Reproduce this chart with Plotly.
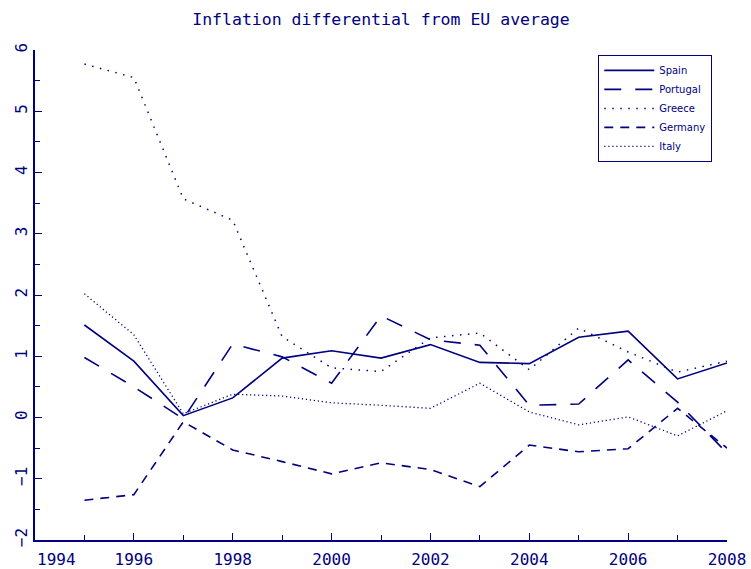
import plotly.graph_objects as go

NAVY = "#000080"

years = list(range(1995, 2009))

spain = [1.51, 0.92, 0.03, 0.32, 0.97, 1.09, 0.97, 1.19, 0.90, 0.88, 1.31, 1.41, 0.63, 0.89]
portugal = [0.98, 0.50, -0.02, 1.20, 0.99, 0.56, 1.66, 1.27, 1.18, 0.20, 0.22, 0.94, 0.25, -0.58]
greece = [5.77, 5.55, 3.57, 3.22, 1.32, 0.81, 0.75, 1.30, 1.38, 0.78, 1.46, 1.07, 0.74, 0.92]
germany = [-1.35, -1.26, -0.07, -0.53, -0.72, -0.92, -0.74, -0.85, -1.13, -0.45, -0.56, -0.51, 0.15, -0.50]
italy = [2.02, 1.35, 0.06, 0.38, 0.35, 0.24, 0.20, 0.15, 0.56, 0.09, -0.12, 0.01, -0.30, 0.11]

series = [
    ("Spain", spain, "solid", 1.6),
    ("Portugal", portugal, "17px,14px", 1.6),
    ("Greece", greece, "1.5px,6.5px", 1.5),
    ("Germany", germany, "9px,7px", 1.6),
    ("Italy", italy, "1.2px,2.8px", 1.3),
]

fig = go.Figure()
for name, vals, dash, width in series:
    fig.add_trace(
        go.Scatter(
            x=years,
            y=vals,
            name=name,
            mode="lines",
            line={"color": NAVY, "width": width, "dash": dash},
        )
    )

tick_font = {"family": "DejaVu Sans Mono", "size": 16, "color": NAVY}

fig.update_xaxes(
    range=[1994, 2008],
    tickvals=list(range(1996, 2009, 2)),
    ticks="inside",
    ticklen=7,
    tickwidth=1,
    tickcolor=NAVY,
    minor={"tickvals": list(range(1995, 2009, 2)), "ticks": "inside", "ticklen": 5, "tickcolor": NAVY},
    showline=True,
    linecolor=NAVY,
    linewidth=2,
    showgrid=False,
    zeroline=False,
    tickfont=tick_font,
    ticklabelstandoff=4,
    automargin=False,
)
fig.update_yaxes(
    range=[-2, 6],
    tickvals=list(range(-2, 7)),
    ticktext=["\u22122", "\u22121", "0", "1", "2", "3", "4", "5", "6"],
    tickangle=-90,
    ticks="inside",
    ticklen=7,
    tickwidth=1,
    tickcolor=NAVY,
    minor={"tickvals": [v + 0.5 for v in range(-2, 6)], "ticks": "inside", "ticklen": 5, "tickcolor": NAVY},
    showline=True,
    linecolor=NAVY,
    linewidth=2,
    showgrid=False,
    zeroline=False,
    tickfont=tick_font,
    automargin=False,
)

# first year label sits to the right of the axis corner
fig.add_annotation(
    x=1994,
    y=0,
    xref="x",
    yref="paper",
    text="1994",
    showarrow=False,
    xanchor="left",
    yanchor="top",
    yshift=-8,
    font=tick_font,
)

fig.update_layout(
    width=751,
    height=569,
    margin={"l": 35, "r": 24, "t": 50, "b": 29, "autoexpand": False},
    plot_bgcolor="white",
    paper_bgcolor="white",
    title={
        "text": "Inflation differential from EU average",
        "x": 0.5,
        "xanchor": "center",
        "xref": "paper",
        "y": 0.966,
        "yref": "container",
        "yanchor": "middle",
        "font": {"family": "DejaVu Sans Mono", "size": 16.5, "color": NAVY},
    },
    legend={
        "x": 0.814,
        "y": 0.99,
        "xanchor": "left",
        "yanchor": "top",
        "bordercolor": NAVY,
        "borderwidth": 1,
        "bgcolor": "white",
        "font": {"family": "DejaVu Sans", "size": 10, "color": NAVY},
        "itemwidth": 50,
    },
    showlegend=True,
)

# page body margin would push the 751x569 figure off the window
fig.write_html(
    "out.html",
    config={"displayModeBar": False},
    post_script="document.body.style.margin = '0';",
)
